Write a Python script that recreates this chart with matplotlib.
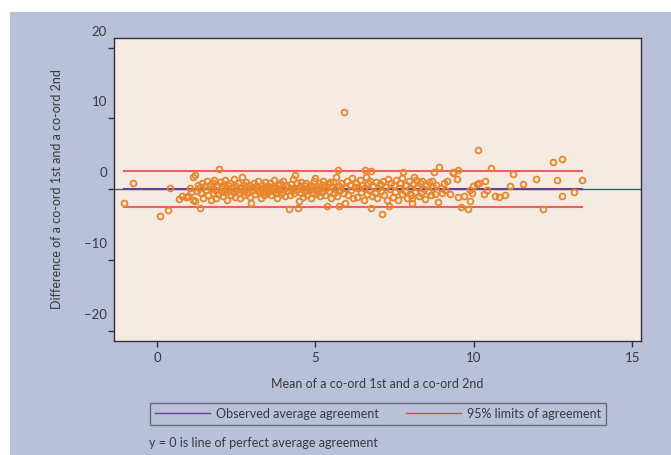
import numpy as np
import matplotlib.pyplot as plt
import matplotlib.transforms as mtransforms
from matplotlib.patches import Rectangle

plt.rcParams['font.family'] = ['Lato', 'DejaVu Sans']

# Mean of the two co-ords (x) and their difference (y)
mean_vals = [-1.05, -0.77, 0.09, 0.35, 0.40, 0.70, 0.80, 0.91, 0.98, 1.05, 1.08, 1.12, 1.15, 1.20, 1.20, 1.36, 1.25, 1.30,
             1.32, 1.38, 1.42, 1.45, 1.50, 1.55, 1.58, 1.62, 1.66, 1.70, 1.73, 1.76, 1.80, 1.78,
             1.84, 1.87, 1.90, 1.93, 1.97, 1.99, 2.02, 2.05, 2.08, 2.10, 2.13, 2.16, 2.19, 2.22, 2.25, 2.28,
             2.31, 2.34, 2.37, 2.40, 2.43, 2.46, 2.49, 2.52, 2.55, 2.58, 2.62, 2.64, 2.67, 2.70, 2.73, 2.76,
             2.79, 2.82, 2.85, 2.88, 2.91, 2.94, 2.97, 3.00, 3.03, 3.06, 3.09, 3.12, 3.15, 3.18, 3.21, 3.24, 3.27,
             3.30, 3.33, 3.36, 3.39, 3.42, 3.45, 3.48, 3.51, 3.54, 3.57, 3.60, 3.63, 3.66, 3.69, 3.72, 3.75, 3.78,
             3.81, 3.84, 3.87, 3.90, 3.93, 3.96, 3.99, 4.02, 4.05, 4.08, 4.11, 4.14, 4.16, 4.19, 4.22, 4.25, 4.28,
             4.31, 4.34, 4.37, 4.40, 4.43, 4.46, 4.47, 4.50, 4.53, 4.56, 4.59, 4.62, 4.65, 4.68, 4.71, 4.74, 4.77,
             4.80, 4.83, 4.86, 4.89, 4.92, 4.95, 4.98, 5.00, 5.03, 5.06, 5.09, 5.12, 5.15, 5.18, 5.21, 5.24, 5.27,
             5.30, 5.33, 5.36, 5.39, 5.42, 5.45, 5.48, 5.51, 5.55, 5.58, 5.62, 5.65, 5.68, 5.71, 5.74, 5.76, 5.78,
             5.82, 5.86, 5.91, 5.93, 5.96, 6.00, 6.04, 6.08, 6.12, 6.16, 6.20, 6.24, 6.28,
             6.32, 6.36, 6.40, 6.44, 6.48, 6.52, 6.55, 6.58, 6.60, 6.63, 6.67, 6.70, 6.73, 6.76, 6.77, 6.79,
             6.83, 6.87, 6.91, 6.95, 6.99, 7.03, 7.07, 7.10, 7.14, 7.18, 7.22, 7.26, 7.29, 7.32,
             7.36, 7.40, 7.44, 7.48, 7.52, 7.56, 7.60, 7.64, 7.68, 7.72, 7.74, 7.77,
             7.82, 7.86, 7.90, 7.94, 7.98, 8.02, 8.04, 8.06, 8.08, 8.10, 8.14, 8.18, 8.22, 8.26, 8.30,
             8.34, 8.38, 8.42, 8.46, 8.50, 8.55, 8.60, 8.64, 8.68, 8.72, 8.74, 8.77, 8.82, 8.87, 8.90, 8.95, 9.00,
             9.05, 9.10, 9.16, 9.24, 9.34, 9.36, 9.46, 9.49, 9.51, 9.61, 9.70, 9.81, 9.89, 9.88, 9.94, 9.99,
             10.09, 10.17, 10.13, 10.36, 10.33, 10.41, 10.54, 10.68, 10.81, 10.99, 11.14, 11.24, 11.57, 11.96,
             12.20, 12.51, 12.64, 12.78, 12.80, 13.17, 13.41]
diff_vals = [-2.02, 0.89, -3.86, -2.97, 0.10, -1.46, -0.99, -1.09, -0.95, 0.10, -0.47, 1.70, -1.55, 2.00, -1.70, -2.73, -0.30, 0.50,
             0.2, -0.6, 0.9, -1.2, 0.4, -0.2, 1.1, -0.9, 0.6, -1.6, 0.1, -0.5, 1.27, 0.8,
             -0.1, -1.3, 0.5, -0.7, 2.87, 1.0, -0.3, 0.3, -1.0, 0.7, -0.4, 1.3, 0.0, -1.5, 0.6, -0.2,
             0.9, -0.8, 0.2, -0.4, 1.4, -1.1, 0.4, -0.1, 0.8, -0.6, -1.32, 0.1, 1.74, -0.3, 0.5, -0.9,
             0.2, 1.0, -0.5, 0.0, 0.6, -1.1, -2.02, 0.3, -0.2, 0.9, -0.7, 0.4, -0.1, 1.2, -0.4, 0.1, -1.2,
             0.6, -0.3, 0.2, -0.8, 1.0, 0.0, -0.5, 0.4, -0.1, 0.8, -0.9, 0.3, -0.3, 1.3, 0.1, -0.6, -1.32,
             0.5, -0.2, 0.9, -0.7, 0.2, -0.4, 1.1, 0.0, -1.0, 0.6, -0.3, 0.3, -2.87, -0.8, 0.7, -0.1, 1.4,
             -0.5, 0.2, 1.98, -0.2, 0.8, -2.73, -1.70, 0.4, -0.6, 1.0, 0.0, -1.1, 0.5, -0.3, 0.9, -0.8, 0.2,
             -0.2, 0.6, -1.2, 0.3, -0.5, 1.1, 0.0, 1.51, -0.7, 0.4, -0.2, 0.8, -1.0, 0.1, -0.4, 1.2, 0.5,
             -0.9, 0.2, -2.36, 0.7, -0.3, 1.0, -1.3, 0.3, 1.03, -0.6, 0.0, 1.65, -1.0, 2.69, 0.4, -2.36, -0.2,
             0.8, -0.5, 10.84, -2.02, 0.2, 1.2, -0.8, 0.5, -0.2, 1.5, -1.2, 0.3, 0.9,
             -1.09, 0.1, 1.3, -0.4, 0.6, -1.6, 0.2, 2.69, 1.74, -0.7, 0.9, -0.2, 1.2, -2.64, 2.54, -1.0,
             0.4, -0.5, 1.0, -1.3, 0.2, 0.7, -0.3, -3.53, 1.1, -0.9, 0.3, -1.5, 1.4, -2.36,
             0.0, 0.8, -1.1, 0.5, -0.4, 1.3, -1.6, 0.2, 0.9, -0.7, 1.51, 2.45,
             -0.3, 0.6, -1.2, 1.1, 0.1, -0.8, -1.23, -1.94, 0.7, 1.74, -0.4, 1.3, 0.3, -1.0, 0.8,
             -0.6, 1.2, 0.0, -1.4, 0.6, -0.3, 1.0, -0.9, 1.13, 0.3, 2.36, -0.75, 0.5, -1.88, 3.07, 0.2, -0.5,
             0.9, -0.2, 1.1, -0.71, 2.45, 2.22, 1.41, -1.09, 2.69, -2.54, -0.95, -2.78, -1.65, -0.14, -0.61, 0.47,
             0.71, 0.89, 5.47, 1.13, -0.75, -0.14, 2.97, -0.99, -1.13, -0.85, 0.42, 2.08, 0.66, 1.41,
             -2.87, 3.86, 1.27, 4.28, -0.95, -0.47, 1.23]

mean_diff = 0.03
upper_loa = 2.59
lower_loa = -2.54

x_ticks = [0, 5, 10, 15]
y_ticks = [-20, -10, 0, 10, 20]

panel_col = '#b8c0da'
plot_bg = '#f4ece2'
text_col = '#3a3a3a'

fig = plt.figure(figsize=(6.71, 4.55), dpi=100)
fig.patches.append(Rectangle((10/671, 0), 1, 1 - 12/455, transform=fig.transFigure,
                             facecolor=panel_col, edgecolor='none', zorder=-10))

ax = fig.add_axes([0.1703, 0.2512, 0.785, 0.6646])
ax.set_facecolor(plot_bg)

xmin, xmax = min(mean_vals), max(mean_vals)
ax.axhline(0, color='#2e6b66', lw=1, zorder=1)
ax.plot([xmin, xmax], [upper_loa, upper_loa], color='#ef5f5f', lw=1.5, zorder=2)
ax.plot([xmin, xmax], [lower_loa, lower_loa], color='#ef5f5f', lw=1.5, zorder=2)
ax.plot([xmin, xmax], [mean_diff, mean_diff], color='#6b3f92', lw=1.5, zorder=2)
ax.plot(mean_vals, diff_vals, 'o', ms=4.2, mfc='none', mec='#e8842a', mew=1.3, zorder=3)

ax.set_xlim(-1.35, 15.28)
ax.set_ylim(-21.44, 21.3)
ax.set_xticks(x_ticks)
ax.set_yticks(y_ticks)
ax.tick_params(direction='out', length=4.3, width=1, colors='#333333', labelcolor=text_col,
               labelsize=9.5)
ax.tick_params(axis='y', pad=1)
ax.tick_params(axis='x', pad=4)
for s in ax.spines.values():
    s.set_color('#333333')
    s.set_linewidth(1)

# the y tick labels sit a little above their ticks in the original
offset = mtransforms.ScaledTranslation(0, 17/100, fig.dpi_scale_trans)
for lab in ax.get_yticklabels():
    lab.set_transform(lab.get_transform() + offset)

ax.set_xlabel('Mean of a co-ord 1st and a co-ord 2nd', fontsize=9, color=text_col, labelpad=10)
ax.set_ylabel('Difference of a co-ord 1st and a co-ord 2nd', fontsize=9, color=text_col, labelpad=15)

h1, = ax.plot([], [], color='#6b3f92', lw=1)
h2, = ax.plot([], [], color='#ef3f3f', lw=1)
leg = fig.legend([h1, h2], ['Observed average agreement', '95% limits of agreement'],
                 loc='center', bbox_to_anchor=(378/671, 1 - 413.5/455), ncol=2,
                 fontsize=9, frameon=True, fancybox=False, handlelength=4.4,
                 handletextpad=0.45, columnspacing=2.2, borderpad=0.4)
leg.get_frame().set_facecolor(panel_col)
leg.get_frame().set_edgecolor('#555555')
leg.get_frame().set_linewidth(1)
for t in leg.get_texts():
    t.set_color(text_col)

fig.text(149/671, 1 - 443/455, 'y = 0 is line of perfect average agreement', fontsize=9,
         color=text_col, ha='left', va='center')

fig.savefig('out.png', dpi=100)
